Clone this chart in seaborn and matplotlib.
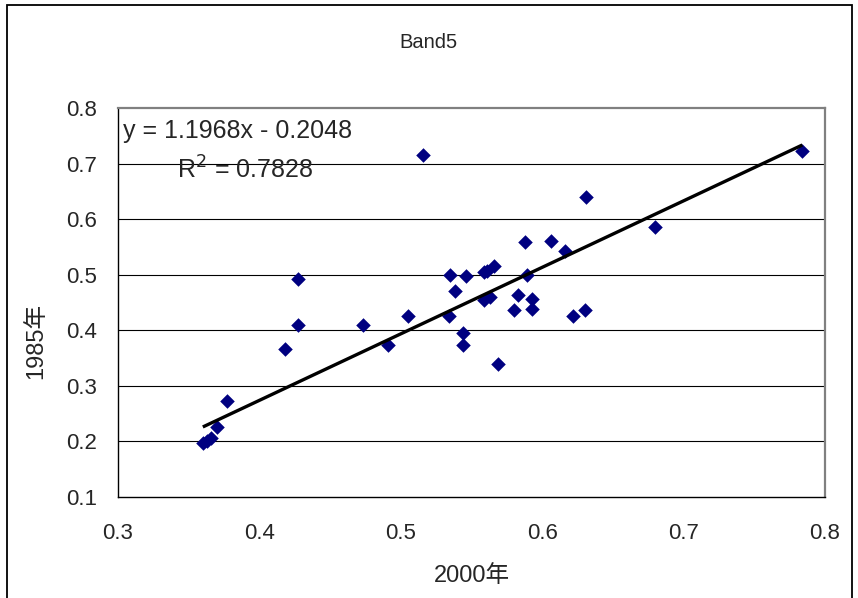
import matplotlib
matplotlib.use("Agg")
import matplotlib.pyplot as plt
import matplotlib.patches as mpatches
import numpy as np
import pandas as pd
import seaborn as sns

# ── data ──────────────────────────────────────────────────────────────────────
x_2000 = [0.360, 0.363, 0.366, 0.370, 0.377, 0.418, 0.427, 0.427, 0.473, 0.491,
          0.505, 0.516, 0.534, 0.535, 0.538, 0.546, 0.544, 0.544, 0.559, 0.561,
          0.566, 0.559, 0.563, 0.569, 0.583, 0.580, 0.593, 0.593, 0.589, 0.588,
          0.606, 0.616, 0.622, 0.630, 0.631, 0.680, 0.784]
y_1985 = [0.197, 0.201, 0.206, 0.226, 0.272, 0.367, 0.410, 0.493, 0.410, 0.373,
          0.425, 0.716, 0.425, 0.500, 0.470, 0.497, 0.396, 0.373, 0.504, 0.506,
          0.515, 0.455, 0.459, 0.339, 0.464, 0.436, 0.457, 0.439, 0.500, 0.558,
          0.561, 0.543, 0.425, 0.436, 0.640, 0.586, 0.723]

SLOPE, INTERCEPT, R2 = 1.1968, -0.2048, 0.7828
TITLE = "Band5"
XLABEL = "2000年"
YLABEL = "1985年"
X_TICKS = [0.3, 0.4, 0.5, 0.6, 0.7, 0.8]
Y_TICKS = [0.1, 0.2, 0.3, 0.4, 0.5, 0.6, 0.7, 0.8]

df = pd.DataFrame({"x": x_2000, "y": y_1985})

sns.set_style("white")
plt.rcParams["font.family"] = ["Liberation Sans", "Noto Sans CJK JP", "DejaVu Sans"]

fig = plt.figure(figsize=(8.58, 5.98), dpi=100)
ax = fig.add_axes([118 / 858, 1 - 497 / 598, 707 / 858, 389 / 598])

sns.scatterplot(data=df, x="x", y="y", ax=ax, marker="D", s=55,
                color="#000080", linewidth=0, zorder=3)

# Excel-style trendline over the data range
xs = np.array([df["x"].min(), df["x"].max()])
ax.plot(xs, SLOPE * xs + INTERCEPT, color="black", lw=2.4, zorder=4,
        solid_capstyle="butt")

ax.set_xlim(0.3, 0.8)
ax.set_ylim(0.1, 0.8)
ax.set_xticks(X_TICKS)
ax.set_yticks(Y_TICKS)
ax.set_xticklabels([f"{v:.1f}" for v in X_TICKS])
ax.set_yticklabels([f"{v:.1f}" for v in Y_TICKS])
ax.tick_params(axis="x", direction="in", length=6, width=0.8, pad=19,
               labelsize=16, color="black")
ax.tick_params(axis="y", direction="out", length=3, width=0.8, pad=12,
               labelsize=16, color="black")

for v in Y_TICKS[1:-1]:
    ax.axhline(v, color="black", lw=0.8, zorder=1)

for side in ["left", "bottom"]:
    ax.spines[side].set_color("black")
    ax.spines[side].set_linewidth(1.0)
for side in ["top", "right"]:
    ax.spines[side].set_color("#808080")
    ax.spines[side].set_linewidth(1.6)

ax.set_xlabel(XLABEL, fontsize=17)
ax.set_ylabel(YLABEL, fontsize=17)
ax.xaxis.set_label_coords(0.50, -0.175)
ax.yaxis.set_label_coords(-0.10, 0.40)

fig.text(0.5 * (402 + 455) / 858, 1 - 42 / 598, TITLE, ha="center", va="center",
         fontsize=14.5)

ax.text(0.007, 0.941, f"y = {SLOPE:.4f}x - {abs(INTERCEPT):.4f}",
        transform=ax.transAxes, ha="left", va="center", fontsize=18, zorder=5)
ax.text(0.083, 0.841, f"R$^2$ = {R2:.4f}",
        transform=ax.transAxes, ha="left", va="center", fontsize=18, zorder=5)

# outer chart-area border
fig.patches.append(mpatches.Rectangle((7 / 858, -0.02), 845 / 858, 1.02 - 5 / 598,
                                      transform=fig.transFigure, fill=False,
                                      edgecolor="black", lw=1.3))

fig.savefig("out.png", dpi=100)
